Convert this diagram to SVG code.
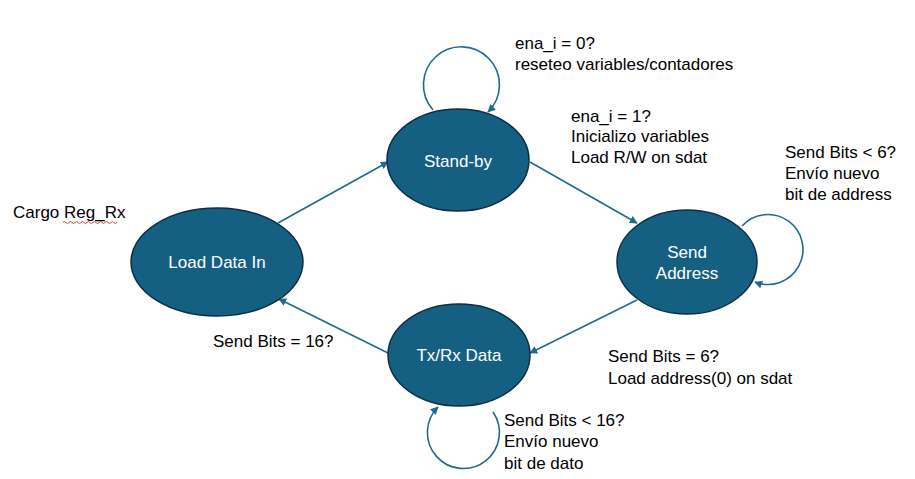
<svg xmlns="http://www.w3.org/2000/svg" width="915" height="479" viewBox="0 0 915 479">
<defs>
<style>
.node{fill:#156082;stroke:#0B2F45;stroke-width:1.5}
.nl{font-family:"Liberation Sans",Arial,sans-serif;font-size:17px;fill:#ffffff;text-anchor:middle}
.t{font-family:"Liberation Sans",Arial,sans-serif;font-size:17px;fill:#000000}
.c{fill:none;stroke:#1F6B8C;stroke-width:1.6;marker-end:url(#ah)}
</style>
<marker id="ah" viewBox="0 0 10 10" refX="9" refY="5" markerWidth="5" markerHeight="5" orient="auto" markerUnits="strokeWidth">
<path d="M0,0 L10,5 L0,10 z" fill="#1F6B8C"/>
</marker>
</defs>
<rect width="915" height="479" fill="#ffffff"/>
<g id="connectors">
<path class="c" d="M278,223 L388,162"/>
<path class="c" d="M530,162 L637,223"/>
<path class="c" d="M637,300 L530,353"/>
<path class="c" d="M388,353 L279,299"/>
<path class="c" d="M433,110 A38,38 0 1 1 488,112"/>
<path class="c" d="M742,226 A35,35 0 1 1 755,282"/>
<path class="c" d="M493,412 A36,36 0 1 1 438,407"/>
</g>
<g id="standby">
<ellipse class="node" cx="458" cy="160" rx="71" ry="51"/>
<text class="nl" x="458" y="167">Stand-by</text>
</g>
<g id="loaddatain">
<ellipse class="node" cx="217" cy="262" rx="86" ry="54"/>
<text class="nl" x="217" y="268">Load Data In</text>
</g>
<g id="sendaddress">
<ellipse class="node" cx="687" cy="262" rx="70" ry="52"/>
<text class="nl" x="687" y="258">Send</text>
<text class="nl" x="687" y="279">Address</text>
</g>
<g id="txrxdata">
<ellipse class="node" cx="459" cy="355" rx="71" ry="51"/>
<text class="nl" x="459" y="361">Tx/Rx Data</text>
</g>
<g id="labels">
<text class="t" x="515" y="49">ena_i = 0?</text>
<text class="t" x="515" y="70">reseteo variables/contadores</text>
<text class="t" x="571" y="122">ena_i = 1?</text>
<text class="t" x="571" y="142">Inicializo variables</text>
<text class="t" x="571" y="163">Load R/W on sdat</text>
<text class="t" x="785" y="158">Send Bits &lt; 6?</text>
<text class="t" x="785" y="179">Envío nuevo</text>
<text class="t" x="785" y="200">bit de address</text>
<text class="t" x="13" y="218">Cargo Reg_Rx</text>
<path d="M63,222.5 q1.5,-2 3,0 t3,0 t3,0 t3,0 t3,0 t3,0 t3,0 t3,0 t3,0 t3,0 t3,0 t3,0 t3,0 t3,0 t3,0 t3,0 t3,0 t3,0" fill="none" stroke="#E03030" stroke-width="0.9"/>
<text class="t" x="213" y="347">Send Bits = 16?</text>
<text class="t" x="608" y="362">Send Bits = 6?</text>
<text class="t" x="608" y="384">Load address(0) on sdat</text>
<text class="t" x="504" y="426">Send Bits &lt; 16?</text>
<text class="t" x="504" y="447">Envío nuevo</text>
<text class="t" x="504" y="469">bit de dato</text>
</g>
</svg>
